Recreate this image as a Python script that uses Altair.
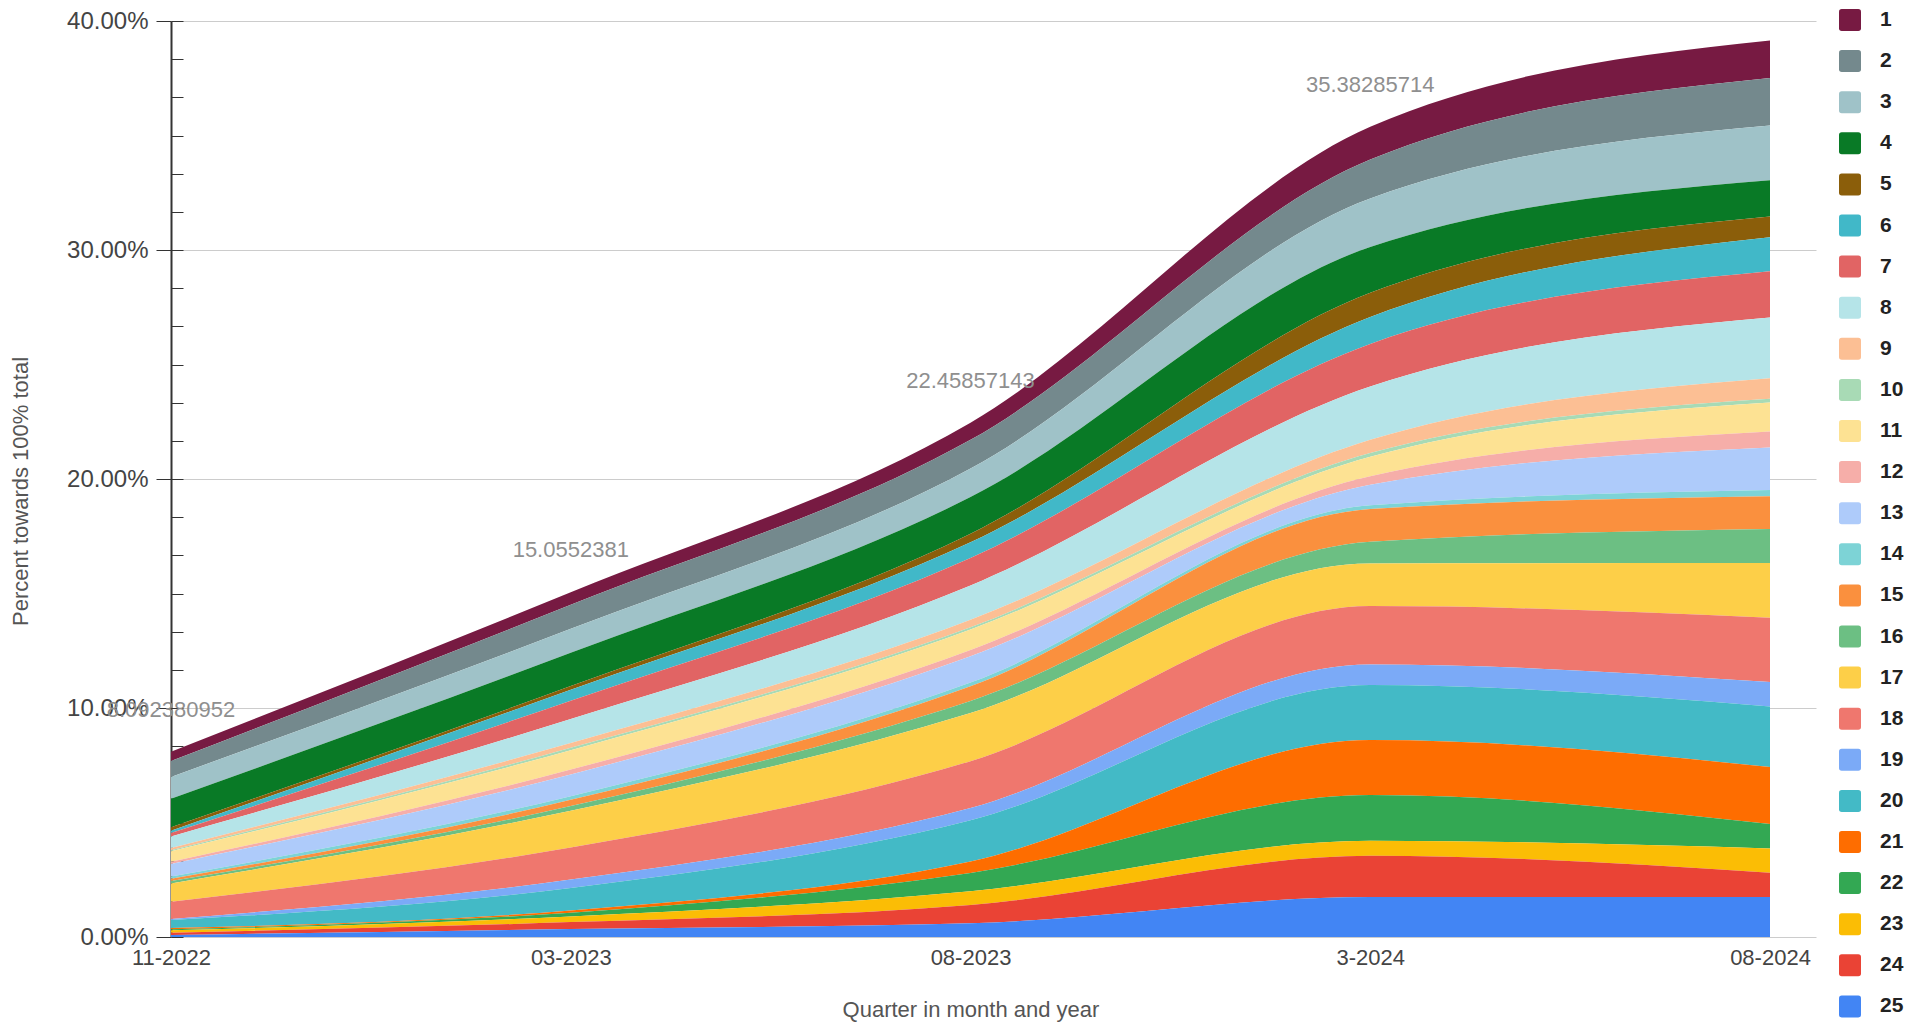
import altair as alt
import pandas as pd

quarters = ["11-2022", "03-2023", "08-2023", "3-2024", "08-2024"]
series_names = [str(i) for i in range(1, 26)]

s1 = [0.40, 0.55, 0.75, 1.43, 1.64]
s2 = [0.70, 1.05, 1.25, 1.70, 2.07]
s3 = [0.95, 1.05, 1.25, 2.12, 2.39]
s4 = [1.25, 1.45, 1.60, 2.00, 1.59]
s5 = [0.15, 0.16, 0.37, 1.06, 0.90]
s6 = [0.10, 0.48, 0.69, 1.17, 1.49]
s7 = [0.15, 0.80, 1.20, 1.86, 2.02]
s8 = [0.50, 1.05, 1.50, 2.33, 2.65]
s9 = [0.10, 0.21, 0.32, 0.58, 0.90]
s10 = [0.05, 0.10, 0.10, 0.16, 0.16]
s11 = [0.45, 0.85, 0.90, 0.85, 1.27]
s12 = [0.10, 0.21, 0.27, 0.37, 0.69]
s13 = [0.55, 0.95, 1.15, 0.90, 1.86]
s14 = [0.10, 0.16, 0.16, 0.16, 0.27]
s15 = [0.10, 0.27, 0.64, 1.43, 1.43]
s16 = [0.10, 0.21, 0.53, 0.95, 1.49]
s17 = [0.80, 1.60, 2.10, 1.86, 2.39]
s18 = [0.75, 1.40, 2.05, 2.55, 2.81]
s19 = [0.05, 0.37, 0.53, 0.90, 1.06]
s20 = [0.35, 0.98, 1.80, 2.40, 2.65]
s21 = [0.05, 0.10, 0.50, 2.40, 2.49]
s22 = [0.05, 0.16, 0.80, 2.00, 1.06]
s23 = [0.10, 0.25, 0.60, 0.65, 1.06]
s24 = [0.10, 0.30, 0.80, 1.80, 1.06]
s25 = [0.09, 0.35, 0.60, 1.75, 1.75]

series_values = [s1, s2, s3, s4, s5, s6, s7, s8, s9, s10, s11, s12, s13,
                 s14, s15, s16, s17, s18, s19, s20, s21, s22, s23, s24, s25]

colors = ["#771a42", "#74898d", "#9fc2c8", "#097a26", "#8b5e0a", "#41b8c8",
          "#e16464", "#b5e4e8", "#fcbf94", "#a8dab5", "#fde293", "#f6aea9",
          "#aecbfa", "#7dd3d6", "#fa903e", "#6cbf83", "#fdcf48", "#ef776e",
          "#7baaf7", "#43bac6", "#fe6d00", "#33a853", "#fbbd05", "#ea4335",
          "#4285f4"]

total_labels = ["8.092380952", "15.0552381", "22.45857143", "35.38285714"]

y_major = [0, 10, 20, 30, 40]
y_minor = [round(i * 10 / 6, 4) for i in range(25)]

rows = []
for k, (name, vals) in enumerate(zip(series_names, series_values)):
    for qi, v in enumerate(vals):
        rows.append({"qidx": qi, "quarter": quarters[qi], "series": name,
                     "value": v, "stack_rank": len(series_names) - k})
df = pd.DataFrame(rows)

totals = [sum(v[i] for v in series_values) for i in range(len(quarters))]
ann = pd.DataFrame({"qidx": list(range(len(total_labels))),
                    "total": totals[:len(total_labels)],
                    "label": total_labels})

W = 1645      # plot width incl. gridline overhang right of the last point
XR = 1599     # span of the data points
H = 916
FONT = "Liberation Sans"

n_last = len(quarters) - 1
xscale = alt.Scale(domain=[0, n_last * W / XR], nice=False, zero=False)
quarter_lookup = "[" + ",".join("'%s'" % q for q in quarters) + "][datum.value]"

xenc = alt.X("qidx:Q", scale=xscale,
             axis=alt.Axis(title="Quarter in month and year", labelAngle=0,
                           values=list(range(len(quarters))),
                           labelExpr=quarter_lookup,
                           ticks=False, domain=False, grid=False,
                           labelFontSize=22, labelColor="#444444",
                           labelPadding=10, labelFlush=False,
                           titleFontSize=22,
                           titleColor="#555555", titleFontWeight="normal",
                           titlePadding=31, titleX=XR / 2))

yscale = alt.Scale(domain=[0, 40], nice=False, zero=True)

rounded_square = ("M-1,-0.75 Q-1,-1 -0.75,-1 L0.75,-1 Q1,-1 1,-0.75 L1,0.75 "
                  "Q1,1 0.75,1 L-0.75,1 Q-1,1 -1,0.75 Z")

area = alt.Chart(df).mark_area(interpolate="monotone", opacity=1).encode(
    x=xenc,
    y=alt.Y("value:Q", stack="zero", scale=yscale,
            axis=alt.Axis(orient="left", values=y_major,
                          labelExpr="format(datum.value, '.2f') + '%'",
                          tickSize=15, tickColor="#333333",
                          domainColor="#333333", domainWidth=2,
                          labelPadding=8, labelFontSize=24,
                          labelColor="#444444", grid=True,
                          gridColor="#cccccc", gridWidth=1,
                          title="Percent towards 100% total",
                          titleFontSize=22, titleColor="#555555",
                          titleFontWeight="normal", titlePadding=34,
                          titleY=H / 2 + 12)),
    color=alt.Color("series:N",
                    scale=alt.Scale(domain=series_names, range=colors),
                    legend=alt.Legend(orient="none", legendX=1668,
                                      legendY=-12, title=None,
                                      symbolType=rounded_square,
                                      symbolSize=484, symbolStrokeWidth=0,
                                      symbolOpacity=1, labelFontSize=21,
                                      labelFontWeight="bold",
                                      labelColor="#222222", rowPadding=19.1,
                                      labelOffset=19)),
    order=alt.Order("stack_rank:Q", sort="ascending"),
)

labels = alt.Chart(ann).mark_text(fontSize=22, color="#8f8f8f", dy=-42,
                                  font=FONT).encode(
    x=alt.X("qidx:Q", scale=xscale),
    y=alt.Y("total:Q", scale=yscale,
            axis=alt.Axis(orient="right", offset=-W, values=y_minor,
                          labels=False, domain=False, grid=False,
                          tickSize=12, tickColor="#333333", tickWidth=1,
                          title=None)),
    text="label:N",
)

chart = alt.layer(area, labels).properties(
    width=W, height=H,
    autosize=alt.AutoSizeParams(type="none"),
    padding={"left": 163, "top": 13, "right": 92, "bottom": 86},
).configure(font=FONT).configure_view(stroke=None)

chart.save("out.html", embed_options={"renderer": "svg", "actions": False})
